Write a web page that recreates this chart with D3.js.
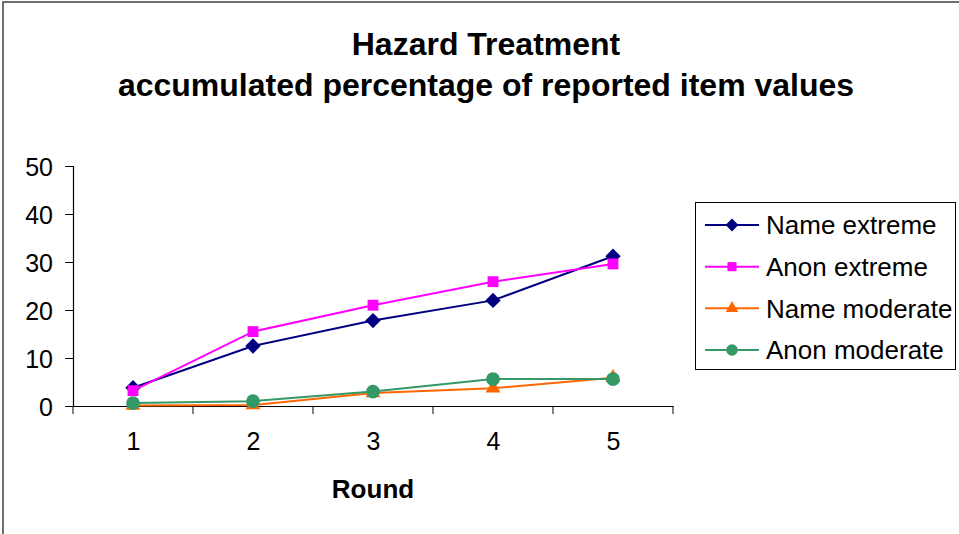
<!DOCTYPE html>
<html>
<head>
<meta charset="utf-8">
<script src="https://cdn.jsdelivr.net/npm/d3@7"></script>
<style>
  body { margin: 0; background: #fff; }
  text { font-family: "Liberation Sans", Arial, sans-serif; fill: #000; }
</style>
</head>
<body>
<script>
// chart data
var rounds = ["1", "2", "3", "4", "5"];
var nameExtreme = [3.8, 12.5, 17.8, 22.0, 31.2];
var anonExtreme = [3.2, 15.5, 21.0, 25.9, 29.6];
var nameModerate = [0.1, 0.2, 2.7, 3.7, 5.9];
var anonModerate = [0.6, 1.0, 3.0, 5.6, 5.6];
var seriesNames = ["Name extreme", "Anon extreme", "Name moderate", "Anon moderate"];
var yTicks = [0, 10, 20, 30, 40, 50];

var width = 959, height = 534;
var plot = { left: 73, right: 673, top: 166, bottom: 406 };

var series = [
  { name: seriesNames[0], values: nameExtreme, colour: "#000080", symbol: d3.symbolDiamond2, size: 150 },
  { name: seriesNames[1], values: anonExtreme, colour: "#ff00ff", symbol: d3.symbolSquare2, size: 150 },
  { name: seriesNames[2], values: nameModerate, colour: "#ff6600", symbol: d3.symbolTriangle2, size: 160 },
  { name: seriesNames[3], values: anonModerate, colour: "#339966", symbol: d3.symbolCircle, size: 150 }
];

var svg = d3.select("body")
  .append("svg")
    .attr("width", width)
    .attr("height", height);

// outer chart border
svg.append("rect")
  .attr("x", 3)
  .attr("y", 2)
  .attr("width", width + 10)
  .attr("height", height + 10)
  .attr("fill", "#fff")
  .attr("stroke", "#404040")
  .attr("stroke-width", 1.5);

// title
var title = svg.append("text")
  .attr("text-anchor", "middle")
  .attr("font-weight", "bold")
  .attr("font-size", 32);
title.append("tspan").attr("x", 486).attr("y", 55).text("Hazard Treatment");
title.append("tspan").attr("x", 486).attr("y", 96).text("accumulated percentage of reported item values");

var x = d3.scalePoint()
  .domain(rounds)
  .range([plot.left, plot.right])
  .padding(0.5);

var xBand = d3.scaleBand()
  .domain(rounds)
  .range([plot.left, plot.right]);

var y = d3.scaleLinear()
  .domain([0, 50])
  .range([plot.bottom, plot.top]);

// y axis
var yAxis = svg.append("g")
  .attr("transform", "translate(" + plot.left + ",0)")
  .call(d3.axisLeft(y).tickValues(yTicks).tickSize(8).tickPadding(12));

// x axis - ticks on the category boundaries
var xAxis = svg.append("g")
  .attr("transform", "translate(0," + plot.bottom + ")")
  .call(d3.axisBottom(x).tickSize(0).tickPadding(26));

xAxis.selectAll(".boundary")
  .data(rounds.concat(["end"]))
  .enter()
    .append("line")
      .attr("class", "boundary")
      .attr("x1", function(d) { return d === "end" ? plot.right : xBand(d); })
      .attr("x2", function(d) { return d === "end" ? plot.right : xBand(d); })
      .attr("y1", 0)
      .attr("y2", 8)
      .attr("stroke", "#000");

[yAxis, xAxis].forEach(function(a) {
  a.select(".domain").attr("stroke", "#000").attr("stroke-width", 1.2);
  a.selectAll(".tick line").attr("stroke", "#000");
  a.selectAll("text")
    .attr("font-size", 25)
    .attr("font-family", "Liberation Sans, Arial, sans-serif")
    .attr("fill", "#000");
});
yAxis.selectAll(".tick text").attr("dy", "0.36em");

svg.append("text")
  .attr("x", x("3"))
  .attr("y", 498)
  .attr("text-anchor", "middle")
  .attr("font-weight", "bold")
  .attr("font-size", 26)
  .text("Round");

// lines and markers
var line = d3.line()
  .x(function(d, i) { return x(rounds[i]); })
  .y(function(d) { return y(d); });

series.forEach(function(s) {
  var g = svg.append("g");
  g.append("path")
    .datum(s.values)
    .attr("fill", "none")
    .attr("stroke", s.colour)
    .attr("stroke-width", 2)
    .attr("d", line);

  g.selectAll("path.mark")
    .data(s.values)
    .enter()
      .append("path")
        .attr("class", "mark")
        .attr("transform", function(d, i) {
          return "translate(" + x(rounds[i]) + "," + y(d) + ")";
        })
        .attr("d", d3.symbol().type(s.symbol).size(s.size))
        .attr("fill", s.colour);
});

// legend
var legend = svg.append("g");
legend.append("rect")
  .attr("x", 695.5)
  .attr("y", 202.5)
  .attr("width", 260)
  .attr("height", 167)
  .attr("fill", "#fff")
  .attr("stroke", "#000")
  .attr("stroke-width", 1);

var legendY = d3.scalePoint()
  .domain(seriesNames)
  .range([225, 350]);

var item = legend.selectAll(".item")
  .data(series)
  .enter()
    .append("g")
      .attr("class", "item")
      .attr("transform", function(d) {
        return "translate(0," + legendY(d.name) + ")";
      });

item.append("line")
  .attr("x1", 705)
  .attr("x2", 759)
  .attr("stroke", function(d) { return d.colour; })
  .attr("stroke-width", 2);

item.append("path")
  .attr("transform", "translate(732,0)")
  .attr("d", function(d) { return d3.symbol().type(d.symbol).size(d.size * 0.7)(); })
  .attr("fill", function(d) { return d.colour; });

item.append("text")
  .attr("x", 766)
  .attr("dy", "0.36em")
  .attr("font-size", 26)
  .text(function(d) { return d.name; });
</script>
</body>
</html>
